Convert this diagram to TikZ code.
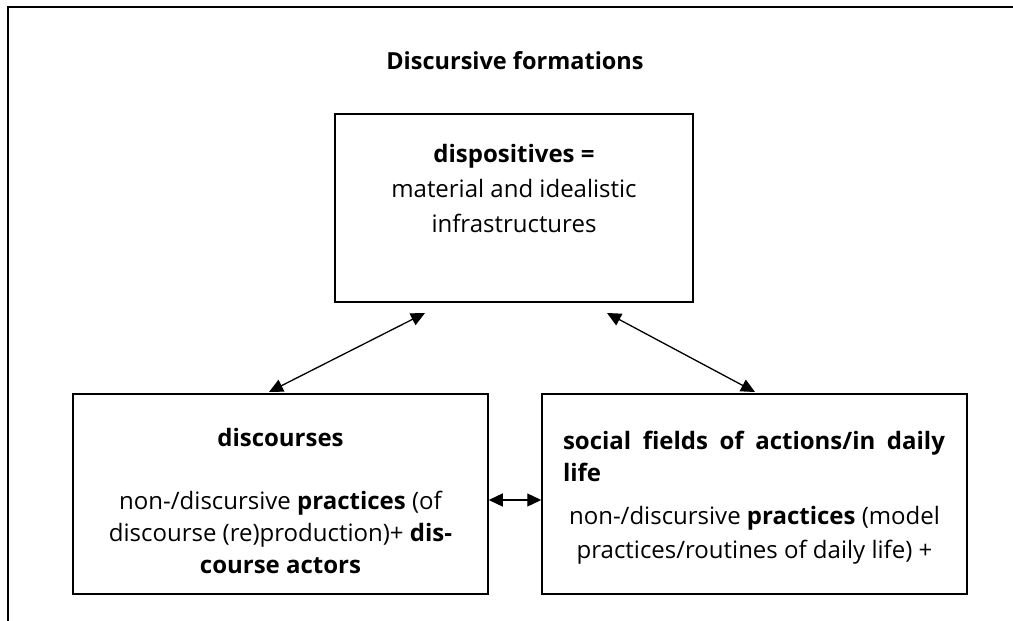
\documentclass[tikz,border=0pt]{standalone}
\usepackage{fontspec}
\setmainfont{Open Sans}
\usetikzlibrary{arrows.meta,calc}
\begin{document}
\begin{tikzpicture}[x=1pt,y=-1pt,
  boxst/.style={draw,line width=1.5pt,inner sep=0pt},
  txt/.style={inner sep=0pt,align=center,font=\fontsize{24}{33}\selectfont},
  arr/.style={line width=1.3pt,{Triangle[length=14pt,width=13pt]}-{Triangle[length=14pt,width=13pt]}}]
\useasboundingbox (0,0) rectangle (1013,621);
% outer frame (open to the right and bottom)
\draw[line width=2pt] (8,630) -- (8,7) -- (1020,7);
% title
\node[inner sep=0pt,font=\bfseries\fontsize{23.5}{28}\selectfont] (title) at (515,61) {Discursive formations};
% boxes
\node[boxst,minimum width=358pt,minimum height=188pt] (disp) at (514,208) {};
\node[boxst,minimum width=415pt,minimum height=200pt] (disc) at (280.5,494) {};
\node[boxst,minimum width=425pt,minimum height=200pt] (soc) at (754.5,494) {};
% texts
\node[txt,font=\fontsize{24}{35}\selectfont] (disptxt) at (514,188) {\textbf{dispositives =}\\material and idealistic\\infrastructures};
\node[txt,font=\bfseries\fontsize{24}{28}\selectfont] (dischead) at (280.5,437) {discourses};
\node[txt,font=\fontsize{24}{32}\selectfont] (disctxt) at (280.5,532) {non-/discursive \textbf{practices} (of\\discourse (re)production)+ \textbf{dis-}\\\textbf{course actors}};
\node[inner sep=0pt,text width=382pt,align=justify,font=\bfseries\fontsize{24}{32}\selectfont] (sochead) at (754,456) {social fields of actions/in daily life};
\node[txt,font=\fontsize{24}{34}\selectfont] (soctxt) at (754.5,535) {non-/discursive \textbf{practices} (model\\practices/routines of daily life) +};
% connectors
\coordinate (a1) at (425,313);
\coordinate (a2) at (269,392);
\coordinate (b1) at (607,313);
\coordinate (b2) at (755,392);
\draw[arr] (a1) -- (a2);
\draw[arr] (b1) -- (b2);
\draw[arr] (disc.east |- 0,500) -- (soc.west |- 0,500);
\end{tikzpicture}
\end{document}
